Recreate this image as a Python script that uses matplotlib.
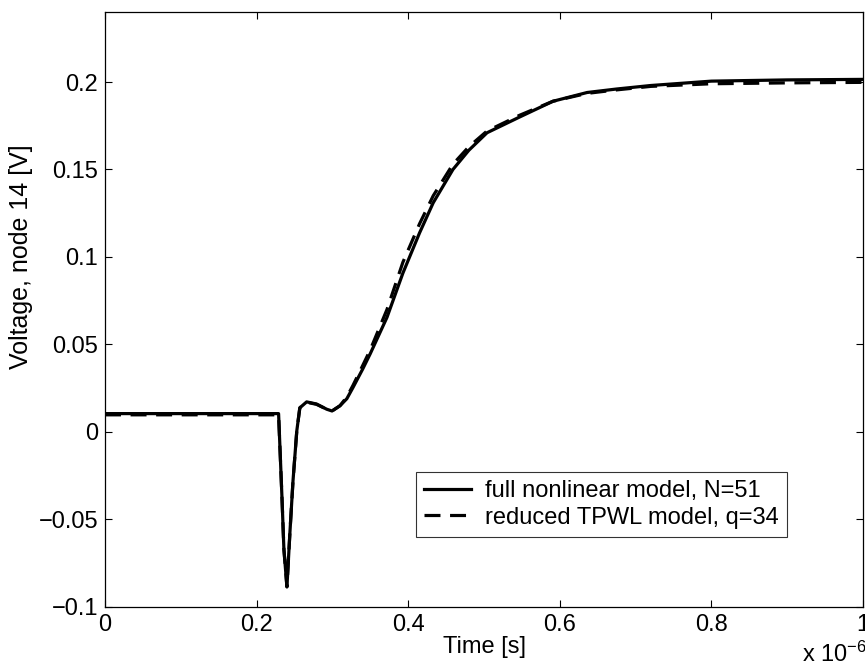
import matplotlib
matplotlib.use("Agg")
import matplotlib.pyplot as plt
from matplotlib.ticker import FuncFormatter, FixedLocator

plt.rcParams['font.family'] = ['Liberation Sans', 'DejaVu Sans']
plt.rcParams['mathtext.default'] = 'regular'

# time in microseconds
t_full = [0, 0.1, 0.2, 0.229, 0.2335, 0.236, 0.240, 0.244, 0.248, 0.253, 0.257, 0.266,
          0.279, 0.2925, 0.2995, 0.310, 0.319, 0.327, 0.340, 0.350, 0.372, 0.393, 0.415,
          0.433, 0.459, 0.480, 0.504, 0.547, 0.591, 0.636, 0.675, 0.72, 0.80, 0.90, 1.00]
v_full = [0.0105, 0.0105, 0.0105, 0.0105, -0.038, -0.067, -0.0885, -0.057, -0.028, 0.0006,
          0.0138, 0.0172, 0.016, 0.013, 0.012, 0.015, 0.019, 0.0253, 0.036, 0.0448, 0.0655,
          0.0908, 0.1138, 0.131, 0.150, 0.161, 0.171, 0.180, 0.189, 0.194, 0.196, 0.198,
          0.2005, 0.2012, 0.2015]

t_red = t_full
v_red = [0.0098, 0.0098, 0.0098, 0.0098, -0.038, -0.067, -0.0885, -0.057, -0.028, 0.0006,
         0.0138, 0.0170, 0.0158, 0.013, 0.012, 0.015, 0.020, 0.0265, 0.038, 0.047, 0.070,
         0.097, 0.119, 0.135, 0.153, 0.163, 0.172, 0.181, 0.189, 0.1935, 0.1955, 0.1975,
         0.199, 0.1995, 0.1998]

labels = ["full nonlinear model, N=51", "reduced TPWL model, q=34"]
xticks = [0, 0.2, 0.4, 0.6, 0.8, 1.0]
yticks = [-0.1, -0.05, 0, 0.05, 0.1, 0.15, 0.2]

scale = 1e-6
fs = 17
fig = plt.figure(figsize=(8.65, 6.67), dpi=100)
ax = fig.add_axes([0.1214, 0.09, 0.8763, 0.892])

ax.plot([t * scale for t in t_full], v_full, color='black', lw=2.3, label=labels[0])
ax.plot([t * scale for t in t_red], v_red, color='black', lw=2.3, dashes=(5, 3), label=labels[1])

ax.set_xlim(0, 1e-6)
ax.set_ylim(-0.1, 0.24)
ax.xaxis.set_major_locator(FixedLocator([x * scale for x in xticks]))
ax.yaxis.set_major_locator(FixedLocator(yticks))
ax.xaxis.set_major_formatter(FuncFormatter(lambda x, p: '%g' % round(x / scale, 6)))
ax.yaxis.set_major_formatter(FuncFormatter(lambda y, p: ('%g' % round(y, 6)).replace('-', '\u2212')))
ax.tick_params(direction='in', top=True, right=True, length=5, width=0.8, labelsize=fs, pad=5)
for s in ax.spines.values():
    s.set_linewidth(0.9)

ax.set_xlabel("Time [s]", fontsize=fs, labelpad=0)
ax.set_ylabel("Voltage, node 14 [V]", fontsize=fs + 1, labelpad=4)
ax.yaxis.set_label_coords(-0.095, 0.588)

leg = ax.legend(loc='lower right', bbox_to_anchor=(0.90, 0.118), fontsize=fs, frameon=True,
                fancybox=False, edgecolor='black', handlelength=2.0, handletextpad=0.6,
                borderpad=0.35, labelspacing=0.2, borderaxespad=0)
leg.get_frame().set_linewidth(0.8)

fig.text(0.927, 0.0, "x 10$^{-6}$", fontsize=fs, ha='left', va='bottom')

fig.savefig("out.png", dpi=100)
